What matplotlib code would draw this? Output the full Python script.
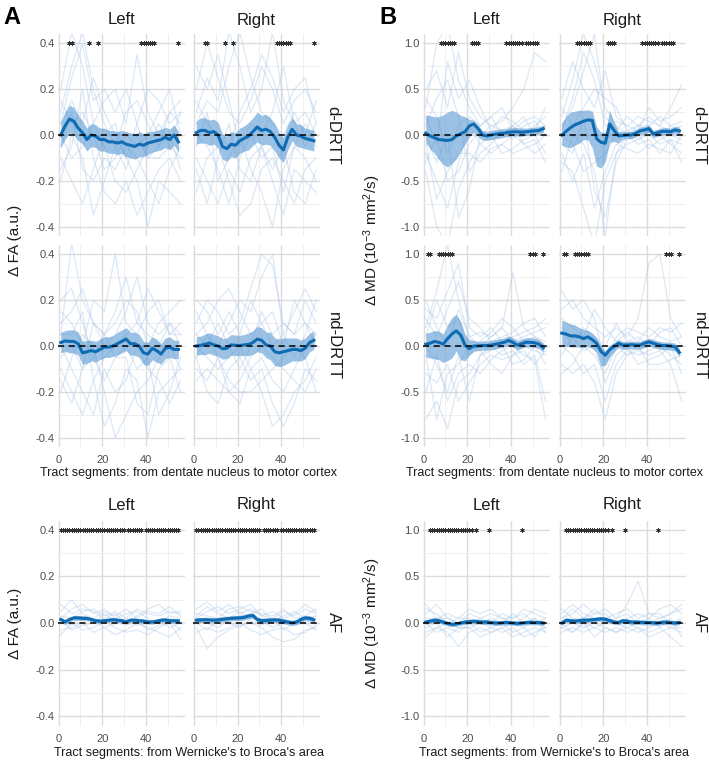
import numpy as np
import matplotlib
matplotlib.use('Agg')
import matplotlib.pyplot as plt

plt.rcParams['font.family'] = ['Liberation Sans', 'DejaVu Sans']
plt.rcParams['mathtext.fontset'] = 'custom'
plt.rcParams['mathtext.rm'] = 'Liberation Sans'
plt.rcParams['mathtext.it'] = 'Liberation Sans:italic'
plt.rcParams['mathtext.bf'] = 'Liberation Sans:bold'

# ---------------- data ----------------
seg_mean = [1, 3, 5, 7, 9, 11, 13, 15, 17, 19, 21, 23, 25, 27, 29, 31, 33, 35, 37, 39, 41, 43, 45, 47, 49, 51, 53, 55]
seg_subj = [1, 6, 11, 16, 21, 26, 31, 36, 41, 46, 51, 56]

x_ticks = [0, 20, 40]
x_ticklabels = ['0', '20', '40']
x_minor = [10, 30, 50]
fa_yticks = [-0.4, -0.2, 0.0, 0.2, 0.4]
fa_yticklabels = ['-0.4', '-0.2', '0.0', '0.2', '0.4']
fa_yminor = [-0.3, -0.1, 0.1, 0.3]
md_yticks = [-1.0, -0.5, 0.0, 0.5, 1.0]
md_yticklabels = ['-1.0', '-0.5', '0.0', '0.5', '1.0']
md_yminor = [-0.75, -0.25, 0.25, 0.75]

# --- FA, d-DRTT ---
fa_dd_L_mean = [0.00, 0.04, 0.07, 0.06, 0.03, 0.01, -0.02, 0.00, -0.005, -0.02, -0.02, -0.03, -0.03, -0.035,
                -0.03, -0.04, -0.045, -0.05, -0.04, -0.045, -0.035, -0.03, -0.025, -0.02, -0.01, -0.02, 0.00, -0.03]
fa_dd_L_hw = [0.055, 0.06, 0.06, 0.06, 0.055, 0.05, 0.05, 0.05, 0.05, 0.05, 0.05, 0.05, 0.05, 0.05,
              0.05, 0.055, 0.055, 0.055, 0.055, 0.05, 0.05, 0.045, 0.045, 0.045, 0.045, 0.045, 0.045, 0.045]
fa_dd_R_mean = [0.01, 0.02, 0.02, 0.01, 0.015, 0.00, -0.05, -0.06, -0.04, -0.045, -0.025, -0.015, -0.005, 0.015,
                0.035, 0.02, 0.025, 0.015, -0.01, -0.045, -0.065, -0.01, 0.025, 0.00, -0.005, -0.015, -0.02, -0.025]
fa_dd_R_hw = [0.05, 0.055, 0.055, 0.055, 0.055, 0.055, 0.055, 0.055, 0.055, 0.055, 0.055, 0.055, 0.06, 0.06,
              0.065, 0.065, 0.065, 0.06, 0.06, 0.055, 0.055, 0.055, 0.05, 0.05, 0.05, 0.045, 0.045, 0.045]
fa_dd_L_subj = [
    [0.10, 0.30, 0.45, 0.20, 0.05, -0.05, 0.10, 0.15, 0.05, -0.05, 0.10, 0.05],
    [-0.15, -0.05, 0.20, -0.10, -0.25, -0.30, -0.20, -0.35, -0.25, -0.15, -0.10, -0.20],
    [0.05, 0.15, 0.05, 0.25, 0.10, 0.00, -0.10, 0.05, 0.20, 0.15, 0.05, 0.10],
    [-0.05, 0.10, -0.15, -0.20, -0.10, -0.15, -0.05, -0.10, -0.20, -0.30, -0.15, -0.05],
    [0.20, 0.45, 0.30, 0.05, 0.15, 0.20, 0.05, 0.35, 0.10, 0.00, 0.10, 0.15],
    [0.00, -0.10, -0.05, 0.05, -0.05, -0.20, -0.25, -0.15, -0.05, 0.05, -0.05, -0.10],
    [-0.10, -0.20, -0.30, -0.15, 0.00, 0.05, -0.10, -0.20, -0.40, -0.20, -0.25, -0.30],
    [0.15, 0.05, 0.10, 0.00, -0.15, -0.10, 0.00, -0.05, 0.00, 0.10, 0.20, 0.00],
    [-0.20, 0.00, -0.10, -0.35, -0.20, -0.05, -0.15, 0.00, -0.10, -0.05, 0.00, -0.15],
    [0.05, 0.25, 0.40, 0.15, 0.20, 0.10, 0.20, 0.05, -0.10, -0.10, -0.05, 0.10],
]
fa_dd_R_subj = [
    [0.10, 0.25, 0.15, 0.45, 0.30, 0.10, 0.20, 0.45, 0.15, 0.05, 0.10, 0.00],
    [-0.10, -0.20, -0.30, -0.15, -0.25, -0.10, -0.05, -0.20, -0.35, -0.15, -0.20, -0.25],
    [0.20, 0.40, 0.25, 0.10, 0.05, 0.15, 0.30, 0.20, 0.05, 0.15, 0.20, 0.10],
    [0.00, -0.05, -0.15, -0.30, -0.10, 0.00, -0.10, -0.05, -0.25, -0.05, 0.05, -0.05],
    [0.05, 0.15, 0.10, 0.30, 0.45, 0.25, 0.10, 0.05, 0.00, 0.10, 0.00, 0.15],
    [-0.25, -0.10, -0.05, -0.20, -0.35, -0.30, -0.15, -0.10, -0.20, -0.30, -0.15, -0.10],
    [0.15, 0.05, 0.00, -0.05, 0.10, 0.20, 0.35, 0.25, 0.10, 0.20, 0.25, 0.05],
    [-0.05, 0.10, -0.20, -0.10, 0.00, -0.15, -0.25, -0.40, -0.15, -0.05, -0.10, -0.20],
    [0.30, 0.20, 0.35, 0.15, -0.05, 0.05, 0.00, 0.10, 0.30, 0.05, -0.05, 0.05],
    [-0.15, -0.30, -0.10, 0.05, -0.15, -0.20, -0.05, -0.15, -0.05, -0.25, -0.30, -0.15],
]
fa_dd_stars = [5, 6, 14, 18, 38, 39, 40, 41, 42, 43, 44, 55]

# --- FA, nd-DRTT ---
fa_nd_L_mean = [0.015, 0.022, 0.02, 0.02, 0.01, -0.03, -0.025, -0.02, -0.025, -0.015, -0.005, -0.005, 0.0, 0.01,
                0.02, 0.03, 0.01, 0.01, 0.0, -0.03, -0.035, -0.01, -0.02, -0.035, -0.01, -0.005, -0.015, -0.015]
fa_nd_L_hw = [0.045, 0.045, 0.05, 0.05, 0.05, 0.05, 0.05, 0.045, 0.045, 0.045, 0.045, 0.045, 0.045, 0.05,
              0.05, 0.05, 0.05, 0.05, 0.05, 0.05, 0.05, 0.05, 0.05, 0.045, 0.045, 0.045, 0.04, 0.04]
fa_nd_R_mean = [0.0, 0.003, 0.007, 0.013, 0.005, 0.0, -0.012, -0.01, 0.005, 0.003, 0.002, 0.005, 0.007, 0.015,
                0.03, 0.025, 0.005, 0.0, -0.025, -0.03, -0.025, -0.02, -0.015, -0.015, -0.02, -0.01, 0.015, 0.025]
fa_nd_R_hw = [0.04, 0.04, 0.045, 0.045, 0.045, 0.045, 0.045, 0.045, 0.045, 0.045, 0.045, 0.045, 0.05, 0.05,
              0.055, 0.055, 0.055, 0.06, 0.06, 0.06, 0.06, 0.055, 0.05, 0.05, 0.045, 0.045, 0.04, 0.04]
fa_nd_L_subj = [
    [0.05, 0.45, 0.20, 0.10, 0.05, 0.15, 0.30, 0.10, 0.05, 0.00, 0.10, 0.05],
    [-0.10, -0.20, -0.30, -0.15, -0.35, -0.25, -0.10, -0.15, -0.40, -0.20, -0.15, -0.10],
    [0.15, 0.10, 0.00, 0.20, 0.15, 0.40, 0.10, 0.05, 0.15, 0.20, 0.05, 0.10],
    [-0.05, 0.00, -0.10, -0.05, -0.15, -0.05, 0.00, -0.10, -0.05, -0.30, -0.20, -0.05],
    [0.20, 0.25, 0.10, -0.05, 0.05, 0.10, 0.20, 0.15, 0.00, 0.10, 0.15, 0.20],
    [0.00, -0.10, -0.20, -0.30, -0.10, -0.20, -0.15, 0.00, -0.10, -0.15, -0.25, -0.15],
    [-0.20, -0.05, 0.05, 0.00, -0.20, -0.40, -0.30, -0.20, -0.15, -0.05, 0.00, -0.10],
    [0.10, 0.15, 0.25, 0.10, 0.00, 0.05, 0.15, 0.30, 0.10, 0.05, 0.10, 0.00],
    [-0.15, -0.25, -0.10, 0.10, 0.05, -0.05, -0.05, -0.25, -0.30, -0.10, -0.05, -0.20],
    [0.05, 0.05, 0.15, -0.15, -0.05, 0.00, 0.05, 0.10, 0.25, 0.15, 0.05, 0.05],
]
fa_nd_R_subj = [
    [0.10, 0.20, 0.15, 0.05, 0.10, 0.25, 0.40, 0.35, 0.10, 0.05, 0.20, 0.10],
    [-0.10, -0.15, -0.05, -0.20, -0.25, -0.10, -0.20, -0.35, -0.30, -0.20, -0.15, -0.05],
    [0.05, 0.10, 0.20, 0.25, 0.15, 0.05, 0.10, 0.00, 0.05, 0.15, 0.25, 0.15],
    [0.00, -0.05, -0.10, -0.05, 0.00, -0.10, -0.05, -0.15, -0.20, -0.10, 0.00, 0.05],
    [0.15, 0.05, 0.00, 0.10, 0.20, 0.15, 0.30, 0.40, 0.05, -0.05, 0.05, 0.20],
    [-0.05, -0.20, -0.25, -0.10, -0.05, -0.15, -0.10, -0.25, -0.35, -0.25, -0.10, -0.15],
    [0.05, 0.00, 0.10, 0.00, -0.10, 0.00, 0.15, 0.05, 0.10, 0.05, 0.10, 0.00],
    [-0.15, -0.10, -0.15, -0.20, -0.15, -0.05, 0.00, -0.05, -0.10, -0.15, -0.20, -0.10],
    [0.20, 0.15, 0.05, 0.15, 0.05, 0.20, 0.10, 0.15, 0.00, 0.20, 0.10, 0.05],
    [-0.05, 0.05, -0.05, -0.15, -0.20, -0.20, -0.15, -0.10, -0.05, 0.00, -0.05, -0.20],
]
fa_nd_stars = []

# --- FA, AF ---
fa_af_L_mean = [0.015, 0.005, 0.015, 0.022, 0.022, 0.02, 0.02, 0.015, 0.01, 0.008, 0.01, 0.012, 0.014, 0.012,
                0.01, 0.005, 0.012, 0.012, 0.01, 0.008, 0.005, 0.004, 0.008, 0.012, 0.013, 0.01, 0.01, 0.009]
fa_af_L_hw = [0.01, 0.01, 0.01, 0.01, 0.01, 0.01, 0.01, 0.009, 0.009, 0.009, 0.009, 0.009, 0.009, 0.009,
              0.009, 0.009, 0.009, 0.009, 0.009, 0.009, 0.009, 0.009, 0.009, 0.009, 0.009, 0.01, 0.01, 0.01]
fa_af_R_mean = [0.012, 0.013, 0.014, 0.013, 0.012, 0.013, 0.016, 0.018, 0.02, 0.021, 0.022, 0.024, 0.03, 0.032,
                0.015, 0.01, 0.011, 0.012, 0.013, 0.012, 0.008, 0.004, 0.001, 0.004, 0.015, 0.022, 0.02, 0.014]
fa_af_R_hw = [0.011, 0.011, 0.011, 0.011, 0.011, 0.011, 0.011, 0.011, 0.011, 0.011, 0.011, 0.011, 0.011, 0.011,
              0.011, 0.011, 0.011, 0.011, 0.011, 0.011, 0.011, 0.011, 0.011, 0.011, 0.011, 0.011, 0.011, 0.011]
fa_af_L_subj = [
    [0.05, 0.10, 0.04, 0.02, 0.05, 0.03, 0.06, 0.02, 0.05, 0.04, 0.07, 0.03],
    [-0.03, -0.02, 0.00, -0.04, -0.02, -0.05, -0.03, 0.00, -0.02, -0.04, -0.06, -0.02],
    [0.08, 0.04, 0.06, 0.05, 0.02, 0.04, 0.00, 0.03, 0.06, 0.08, 0.04, 0.05],
    [0.00, -0.01, 0.03, 0.01, -0.02, 0.00, 0.02, -0.01, 0.00, 0.01, -0.02, 0.00],
    [0.02, 0.06, 0.08, 0.04, 0.06, 0.02, 0.04, 0.05, 0.02, 0.00, 0.03, 0.02],
    [-0.05, 0.00, -0.03, -0.02, 0.01, -0.02, -0.04, -0.03, -0.05, -0.02, 0.00, -0.07],
    [0.03, 0.02, 0.05, 0.06, 0.03, 0.05, 0.02, 0.06, 0.04, 0.03, 0.05, 0.04],
    [0.01, -0.03, -0.01, 0.00, 0.04, 0.01, -0.01, 0.01, -0.03, -0.01, 0.01, -0.03],
]
fa_af_R_subj = [
    [0.06, 0.09, 0.05, 0.08, 0.04, 0.06, 0.03, 0.02, 0.05, 0.03, 0.06, 0.04],
    [-0.02, -0.11, -0.06, -0.03, -0.01, 0.00, -0.02, -0.06, -0.08, -0.07, -0.03, -0.02],
    [0.02, 0.05, 0.07, 0.04, 0.06, 0.08, 0.03, 0.05, 0.02, 0.04, 0.08, 0.05],
    [0.00, -0.03, 0.01, 0.00, -0.02, 0.02, 0.01, -0.02, 0.00, -0.01, 0.00, -0.03],
    [0.04, 0.03, 0.02, 0.06, 0.07, 0.05, 0.04, 0.03, 0.06, 0.02, 0.03, 0.06],
    [-0.04, -0.02, -0.04, -0.02, 0.00, -0.03, -0.05, -0.03, -0.02, -0.05, -0.04, -0.01],
    [0.03, 0.07, 0.04, 0.02, 0.03, 0.04, 0.06, 0.01, 0.03, 0.05, 0.02, 0.03],
    [0.01, 0.00, -0.02, 0.02, 0.05, 0.01, -0.01, 0.02, -0.03, 0.00, 0.01, 0.00],
]
fa_af_stars = [1, 2, 3, 4, 5, 6, 7, 8, 9, 10, 11, 12, 13, 14, 15, 16, 17, 18, 19, 20, 21, 22, 23, 24, 25, 26, 27,
               28, 29, 30, 32, 33, 34, 35, 36, 37, 38, 40, 41, 42, 43, 44, 45, 46, 47, 48, 49, 50, 51, 52, 53, 54, 55]

# --- MD, d-DRTT ---
md_dd_L_mean = [0.02, -0.01, -0.03, -0.05, -0.055, -0.06, -0.05, -0.01, 0.015, 0.035, 0.1, 0.12, 0.07, 0.0,
                -0.01, 0.0, 0.01, 0.015, 0.02, 0.03, 0.035, 0.035, 0.03, 0.035, 0.04, 0.045, 0.05, 0.07]
md_dd_L_up = [0.2, 0.22, 0.23, 0.25, 0.275, 0.31, 0.32, 0.26, 0.2, 0.165, 0.07, 0.04, 0.04, 0.05,
              0.05, 0.05, 0.05, 0.05, 0.045, 0.045, 0.045, 0.045, 0.045, 0.04, 0.04, 0.04, 0.04, 0.04]
md_dd_L_dn = [0.11, 0.14, 0.17, 0.22, 0.265, 0.29, 0.26, 0.25, 0.195, 0.135, 0.12, 0.09, 0.09, 0.055,
              0.05, 0.05, 0.05, 0.05, 0.045, 0.045, 0.045, 0.045, 0.045, 0.04, 0.04, 0.04, 0.04, 0.04]
md_dd_R_mean = [0.0, 0.04, 0.08, 0.11, 0.13, 0.15, 0.165, 0.16, -0.04, -0.08, -0.09, 0.12, 0.05, -0.01,
                -0.005, 0.0, 0.0, 0.02, 0.045, 0.055, 0.07, 0.01, 0.025, 0.04, 0.04, 0.035, 0.055, 0.045]
md_dd_R_up = [0.13, 0.16, 0.17, 0.15, 0.14, 0.12, 0.11, 0.1, 0.13, 0.11, 0.12, 0.15, 0.09, 0.05,
              0.04, 0.04, 0.04, 0.04, 0.04, 0.04, 0.04, 0.04, 0.04, 0.04, 0.04, 0.04, 0.04, 0.04]
md_dd_R_dn = [0.11, 0.17, 0.22, 0.22, 0.22, 0.2, 0.22, 0.3, 0.3, 0.28, 0.2, 0.2, 0.12, 0.08,
              0.04, 0.04, 0.04, 0.04, 0.04, 0.04, 0.04, 0.04, 0.04, 0.04, 0.04, 0.04, 0.04, 0.04]
md_dd_L_subj = [
    [0.30, 1.00, 1.20, 0.60, 0.30, 0.10, 0.20, 0.00, 0.10, 0.20, 0.00, 0.10],
    [-0.40, -1.00, -1.20, -0.60, -0.30, -0.10, -0.20, -0.10, 0.00, -0.10, -0.20, -0.10],
    [0.50, 0.70, 0.30, 0.90, 0.40, 0.20, 0.10, 0.15, 0.30, 0.50, 0.90, 0.80],
    [-0.20, -0.50, -0.80, -0.30, 0.10, -0.10, 0.00, -0.20, -0.15, -0.05, 0.00, -0.20],
    [0.10, 0.40, 0.60, 0.20, -0.40, -0.20, -0.10, 0.05, 0.10, 0.00, 0.10, 0.20],
    [0.00, -0.30, 0.00, -0.90, -0.60, 0.00, 0.10, 0.05, -0.05, 0.10, 0.15, 0.00],
    [0.20, -0.10, 0.80, 0.40, 0.60, 0.30, 0.05, 0.20, 0.15, 0.05, 0.05, 0.30],
    [-0.10, -0.70, -0.40, -0.20, -0.20, -0.30, -0.15, -0.10, -0.20, -0.15, -0.10, 0.00],
    [0.40, 0.20, -0.20, 0.10, 0.20, 0.10, 0.20, 0.30, 0.05, 0.15, 0.20, 0.10],
    [-0.30, 0.00, -0.50, -0.40, -0.10, 0.05, -0.05, 0.00, 0.10, -0.10, -0.05, -0.30],
]
md_dd_R_subj = [
    [0.20, 0.60, 1.10, 0.80, 0.30, 0.10, 0.00, 0.10, 0.05, 0.00, 0.10, 0.00],
    [-0.30, -0.40, -0.80, -1.20, -0.50, -0.20, -0.10, -0.05, 0.00, -0.10, -0.05, -0.10],
    [0.40, 0.80, 0.50, 0.30, 0.70, 0.20, 0.10, 0.20, 0.15, 0.10, 0.30, 0.55],
    [-0.10, -0.20, 0.20, -0.60, -0.90, -0.30, -0.05, 0.00, -0.15, -0.05, 0.00, -0.05],
    [0.10, 0.30, 0.70, 1.10, 0.20, 0.05, 0.20, 0.10, 0.10, 0.20, 0.10, 0.15],
    [0.00, -0.10, -0.40, -0.30, -0.20, 0.00, 0.05, -0.05, 0.05, 0.00, -0.10, -0.20],
    [0.30, 0.10, 0.30, 0.50, 0.40, 0.30, 0.05, 0.10, 0.20, 0.10, 0.05, 0.10],
    [-0.20, -0.50, -0.20, -0.80, -0.40, -0.10, -0.15, -0.20, -0.10, -0.15, -0.20, 0.00],
    [0.05, 0.40, 0.90, 0.60, 0.10, 0.15, 0.10, 0.05, 0.30, 0.15, 0.20, 0.30],
    [-0.40, 0.00, -0.10, -0.40, -1.10, -0.20, 0.00, -0.10, -0.05, -0.20, -0.05, -0.30],
]
md_dd_stars = [8, 9, 10, 11, 12, 13, 14, 22, 23, 24, 25, 38, 39, 40, 41, 42, 43, 44, 45, 47, 48, 49, 50, 51, 52]

# --- MD, nd-DRTT ---
md_nd_L_mean = [0.02, 0.03, 0.05, 0.04, 0.02, 0.08, 0.13, 0.165, 0.12, 0.01, -0.03, 0.0, 0.0, 0.005,
                0.005, 0.01, 0.02, 0.03, 0.04, 0.06, 0.04, 0.01, 0.025, 0.04, 0.04, 0.035, 0.02, -0.02]
md_nd_L_up = [0.12, 0.12, 0.12, 0.12, 0.11, 0.15, 0.18, 0.18, 0.15, 0.12, 0.1, 0.06, 0.05, 0.05,
              0.05, 0.05, 0.05, 0.05, 0.05, 0.05, 0.05, 0.05, 0.05, 0.05, 0.05, 0.05, 0.05, 0.05]
md_nd_L_dn = [0.14, 0.16, 0.19, 0.19, 0.2, 0.24, 0.26, 0.22, 0.27, 0.17, 0.07, 0.06, 0.05, 0.05,
              0.05, 0.05, 0.05, 0.05, 0.05, 0.05, 0.05, 0.05, 0.05, 0.05, 0.05, 0.05, 0.05, 0.05]
md_nd_R_mean = [0.14, 0.13, 0.11, 0.11, 0.1, 0.08, 0.1, 0.07, 0.03, -0.06, -0.1, -0.04, -0.005, 0.03,
                0.01, 0.01, 0.015, 0.01, 0.01, 0.03, 0.045, 0.03, 0.015, 0.005, 0.005, 0.0, -0.01, -0.07]
md_nd_R_up = [0.14, 0.13, 0.13, 0.12, 0.1, 0.1, 0.07, 0.07, 0.06, 0.06, 0.05, 0.05, 0.04, 0.04,
              0.04, 0.04, 0.04, 0.04, 0.04, 0.04, 0.04, 0.04, 0.04, 0.04, 0.04, 0.04, 0.04, 0.04]
md_nd_R_dn = [0.13, 0.13, 0.12, 0.12, 0.11, 0.1, 0.1, 0.1, 0.1, 0.16, 0.11, 0.08, 0.06, 0.045,
              0.045, 0.045, 0.045, 0.045, 0.045, 0.045, 0.045, 0.045, 0.045, 0.045, 0.045, 0.045, 0.045, 0.045]
md_nd_L_subj = [
    [0.20, 0.60, 1.10, 0.50, 0.10, 0.00, 0.10, 0.20, 0.80, 0.20, 0.10, 0.00],
    [-0.80, -0.60, -0.90, -0.40, -0.30, -0.10, 0.00, -0.10, -0.05, -0.20, -0.10, -0.60],
    [0.40, 0.30, 0.60, 0.90, 0.20, 0.10, 0.20, 0.05, 0.10, 0.15, 0.20, 0.30],
    [-0.30, -0.40, -0.20, -0.60, -0.40, -0.20, -0.10, -0.15, -0.10, 0.00, -0.05, -0.10],
    [0.10, 0.50, 0.20, 0.30, -0.10, 0.05, 0.15, 0.30, 0.20, 0.05, 0.10, 0.05],
    [0.00, -0.20, -0.50, -0.10, -0.60, -0.10, -0.05, 0.00, -0.20, -0.15, 0.00, -0.20],
    [0.30, 0.10, 0.40, 0.70, 0.30, 0.20, 0.05, 0.10, 0.15, 0.25, 0.30, 0.10],
    [-0.10, -0.80, -0.30, -0.20, 0.00, -0.05, -0.20, -0.30, -0.10, -0.05, -0.20, -0.05],
    [0.50, 0.20, 0.00, 0.40, 0.10, 0.15, 0.10, 0.20, 0.05, 0.10, 0.15, 0.20],
    [-0.50, -0.10, -0.60, -0.30, -0.20, -0.30, -0.15, -0.05, 0.00, -0.10, -0.15, -0.80],
]
md_nd_R_subj = [
    [0.40, 0.50, 0.30, 0.20, 0.10, 0.20, 0.10, 0.30, 0.90, 1.00, 0.30, 0.10],
    [-0.20, -0.30, -0.20, -0.40, -0.80, -0.30, -0.10, -0.05, -0.10, -0.05, -0.20, -0.60],
    [0.60, 0.40, 0.50, 0.30, -0.20, 0.10, 0.20, 0.15, 0.10, 0.20, 0.15, 0.25],
    [0.00, -0.10, -0.30, -0.20, -0.60, -0.20, -0.05, -0.10, -0.05, 0.00, -0.10, -0.20],
    [0.30, 0.20, 0.10, 0.40, 0.20, 0.05, 0.15, 0.05, 0.20, 0.10, 0.05, 0.10],
    [-0.10, 0.10, -0.05, 0.00, -0.40, -0.10, 0.00, -0.20, -0.15, -0.10, 0.00, -0.30],
    [0.20, 0.00, 0.20, 0.10, 0.00, 0.25, 0.05, 0.10, 0.00, 0.15, 0.20, 0.00],
    [-0.30, -0.20, 0.00, -0.10, -0.30, 0.00, -0.10, 0.00, -0.20, -0.20, -0.15, -0.10],
]
md_nd_stars = [2, 3, 7, 8, 9, 10, 11, 12, 13, 49, 50, 51, 55]

# --- MD, AF ---
md_af_L_mean = [0.01, 0.02, 0.03, 0.025, 0.01, -0.005, -0.015, -0.01, 0.0, 0.01, 0.015, 0.018, 0.015, 0.01,
                0.01, 0.005, 0.0, 0.0, 0.005, 0.005, 0.0, -0.005, 0.0, 0.005, 0.007, 0.005, 0.005, 0.0]
md_af_L_hw = [0.025, 0.025, 0.025, 0.025, 0.025, 0.025, 0.025, 0.025, 0.025, 0.025, 0.025, 0.025, 0.025, 0.025,
              0.025, 0.025, 0.025, 0.025, 0.025, 0.025, 0.025, 0.025, 0.025, 0.025, 0.025, 0.025, 0.025, 0.025]
md_af_R_mean = [0.0, 0.03, 0.025, 0.02, 0.025, 0.03, 0.03, 0.035, 0.04, 0.045, 0.04, 0.025, 0.01, 0.005,
                0.025, 0.02, 0.01, 0.01, 0.008, 0.005, 0.005, 0.002, 0.0, 0.008, 0.01, 0.005, 0.0, 0.005]
md_af_R_hw = [0.025, 0.025, 0.025, 0.025, 0.025, 0.025, 0.025, 0.025, 0.025, 0.025, 0.025, 0.025, 0.025, 0.025,
              0.025, 0.025, 0.025, 0.025, 0.025, 0.025, 0.025, 0.025, 0.025, 0.025, 0.025, 0.025, 0.025, 0.025]
md_af_L_subj = [
    [0.10, 0.20, 0.05, 0.00, 0.10, 0.05, 0.00, 0.10, 0.05, 0.15, 0.10, 0.05],
    [-0.15, -0.05, -0.10, -0.25, -0.10, -0.05, -0.10, -0.05, -0.15, -0.10, -0.05, -0.10],
    [0.15, 0.10, 0.00, 0.05, 0.15, 0.10, 0.15, 0.05, 0.00, 0.05, 0.15, 0.10],
    [0.00, -0.10, -0.05, -0.10, 0.00, -0.10, -0.05, -0.10, -0.05, -0.15, -0.10, -0.05],
    [0.05, 0.05, 0.10, 0.05, 0.05, 0.00, 0.05, 0.00, 0.10, 0.00, 0.05, -0.05],
    [-0.05, 0.00, -0.15, -0.05, -0.05, -0.15, -0.10, -0.05, 0.00, -0.05, -0.15, 0.00],
    [0.20, 0.05, 0.05, 0.00, 0.00, 0.05, 0.10, 0.05, 0.05, 0.10, 0.00, 0.05],
    [-0.10, -0.05, 0.00, -0.05, -0.05, 0.00, -0.05, 0.00, -0.10, -0.05, 0.05, -0.10],
]
md_af_R_subj = [
    [0.10, 0.20, 0.10, 0.05, 0.00, 0.05, 0.20, 0.45, 0.10, 0.05, 0.10, 0.20],
    [-0.10, -0.05, -0.10, -0.05, -0.10, -0.05, -0.10, -0.05, -0.10, -0.05, -0.15, -0.25],
    [0.05, 0.10, 0.20, 0.10, 0.10, 0.00, 0.05, 0.10, 0.05, 0.15, 0.20, 0.10],
    [0.00, -0.10, 0.00, -0.15, -0.05, -0.10, 0.00, -0.05, -0.15, -0.10, -0.05, -0.05],
    [0.15, 0.05, 0.05, 0.10, 0.15, 0.05, 0.10, 0.00, 0.00, 0.05, 0.10, 0.15],
    [-0.05, 0.00, -0.05, 0.00, -0.05, -0.10, -0.05, -0.10, -0.05, 0.00, -0.05, -0.10],
    [0.05, 0.15, 0.05, 0.15, 0.05, 0.10, 0.15, 0.05, 0.10, 0.10, 0.00, 0.05],
    [-0.05, -0.10, 0.00, -0.05, 0.00, 0.00, -0.05, 0.00, 0.05, -0.05, 0.05, -0.15],
]
md_af_stars = [3, 4, 5, 6, 7, 8, 9, 10, 11, 12, 13, 14, 15, 16, 17, 18, 19, 20, 21, 22, 24, 30, 45]

# ---------------- style ----------------
W, H = 709, 762
fig = plt.figure(figsize=(W / 100, H / 100), dpi=100)

C_SUBJ = '#a9c6e8'
C_BAND = '#4a90cf'
C_MEAN = '#0f6cb3'
TXT = '#1a1a1a'
TICK = '#4d4d4d'


def px_axes(x0, y0, x1, y1):
    return fig.add_axes([x0 / W, 1 - y1 / H, (x1 - x0) / W, (y1 - y0) / H])


def draw(ax, subj, mean, up, dn, stars, lim, star_y, yt, ytl, ymin, show_y, show_x):
    ax.set_xlim(-0.5, 57.8)
    ax.set_ylim(-lim, lim)
    ax.set_xticks(x_ticks)
    ax.set_xticks(x_minor, minor=True)
    ax.set_yticks(yt)
    ax.set_yticks(ymin, minor=True)
    ax.set_xticklabels(x_ticklabels if show_x else [])
    ax.set_yticklabels(ytl if show_y else [])
    ax.grid(which='major', color='#dcdcdc', lw=1.0)
    ax.grid(which='minor', color='#ededed', lw=0.6)
    ax.set_axisbelow(True)
    for s in ax.spines.values():
        s.set_visible(False)
    ax.tick_params(which='both', length=0, labelsize=8, labelcolor=TICK)
    ax.tick_params(axis='x', pad=6)
    ax.tick_params(axis='y', pad=2)
    for line in subj:
        ax.plot(seg_subj, line, color=C_SUBJ, lw=0.9, alpha=0.4, zorder=1)
    m = np.array(mean)
    ax.fill_between(seg_mean, m - np.array(dn), m + np.array(up), color=C_BAND, alpha=0.55, lw=0, zorder=2)
    ax.plot(seg_mean, m, color=C_MEAN, lw=2.2, zorder=3, solid_joinstyle='round')
    ax.axhline(0, color='black', lw=1.1, ls=(0, (4, 3)), zorder=4)
    if stars:
        ax.plot(stars, [star_y] * len(stars), ls='none', marker=(6, 2, 0), ms=3.2, mew=0.55,
                color='#333333', zorder=5)


cols_A = [(57.5, 184.5), (193.0, 320.0)]
cols_B = [(422.5, 549.5), (558.5, 685.5)]
rows = [(34.2, 235.8), (245.0, 447.0), (520.5, 725.5)]

panels_A = [
    [(fa_dd_L_subj, fa_dd_L_mean, fa_dd_L_hw, fa_dd_L_hw, fa_dd_stars),
     (fa_dd_R_subj, fa_dd_R_mean, fa_dd_R_hw, fa_dd_R_hw, fa_dd_stars)],
    [(fa_nd_L_subj, fa_nd_L_mean, fa_nd_L_hw, fa_nd_L_hw, fa_nd_stars),
     (fa_nd_R_subj, fa_nd_R_mean, fa_nd_R_hw, fa_nd_R_hw, fa_nd_stars)],
    [(fa_af_L_subj, fa_af_L_mean, fa_af_L_hw, fa_af_L_hw, fa_af_stars),
     (fa_af_R_subj, fa_af_R_mean, fa_af_R_hw, fa_af_R_hw, fa_af_stars)],
]
panels_B = [
    [(md_dd_L_subj, md_dd_L_mean, md_dd_L_up, md_dd_L_dn, md_dd_stars),
     (md_dd_R_subj, md_dd_R_mean, md_dd_R_up, md_dd_R_dn, md_dd_stars)],
    [(md_nd_L_subj, md_nd_L_mean, md_nd_L_up, md_nd_L_dn, md_nd_stars),
     (md_nd_R_subj, md_nd_R_mean, md_nd_R_up, md_nd_R_dn, md_nd_stars)],
    [(md_af_L_subj, md_af_L_mean, md_af_L_hw, md_af_L_hw, md_af_stars),
     (md_af_R_subj, md_af_R_mean, md_af_R_hw, md_af_R_hw, md_af_stars)],
]

for cols, panels, lim, sy, yt, ytl, ymin in [
        (cols_A, panels_A, 0.44, 0.4, fa_yticks, fa_yticklabels, fa_yminor),
        (cols_B, panels_B, 1.1, 1.0, md_yticks, md_yticklabels, md_yminor)]:
    for r, (y0, y1) in enumerate(rows):
        for c, (x0, x1) in enumerate(cols):
            ax = px_axes(x0, y0, x1, y1)
            subj, mean, up, dn, stars = panels[r][c]
            draw(ax, subj, mean, up, dn, stars, lim, sy, yt, ytl, ymin,
                 show_y=(c == 0), show_x=(r != 0))

# ---------------- texts ----------------
def ftext(x, y, s, **kw):
    fig.text(x / W, 1 - y / H, s, **kw)


ftext(3, 6, 'A', fontsize=17, fontweight='bold', va='top', ha='left', color='black')
ftext(379, 6, 'B', fontsize=17, fontweight='bold', va='top', ha='left', color='black')

row_labels = ['d-DRTT', 'nd-DRTT', 'AF']
for cols, rx in [(cols_A, 333), (cols_B, 699)]:
    for (x0, x1), name in zip(cols, ['Left', 'Right']):
        ftext((x0 + x1) / 2, 20, name, fontsize=12, ha='center', va='center', color=TXT)
        ftext((x0 + x1) / 2, 505, name, fontsize=12, ha='center', va='center', color=TXT)
    for (y0, y1), lab in zip(rows, row_labels):
        ftext(rx, (y0 + y1) / 2, lab, fontsize=12, rotation=270, ha='center', va='center', color=TXT)

ftext(15, 240, 'Δ FA (a.u.)', fontsize=11, rotation=90, ha='center', va='center', color=TXT)
ftext(15, 623, 'Δ FA (a.u.)', fontsize=11, rotation=90, ha='center', va='center', color=TXT)
md_label = 'Δ MD (10$^{-3}$ mm$^{2}$/s)'
ftext(372, 240, md_label, fontsize=11, rotation=90, ha='center', va='center', color=TXT)
ftext(372, 623, md_label, fontsize=11, rotation=90, ha='center', va='center', color=TXT)

xl_top = 'Tract segments: from dentate nucleus to motor cortex'
xl_bot = "Tract segments: from Wernicke's to Broca's area"
ftext(189, 473, xl_top, fontsize=9, ha='center', va='center', color=TXT)
ftext(554, 473, xl_top, fontsize=9, ha='center', va='center', color=TXT)
ftext(189, 753, xl_bot, fontsize=9, ha='center', va='center', color=TXT)
ftext(554, 753, xl_bot, fontsize=9, ha='center', va='center', color=TXT)

fig.savefig('out.png', dpi=100)
